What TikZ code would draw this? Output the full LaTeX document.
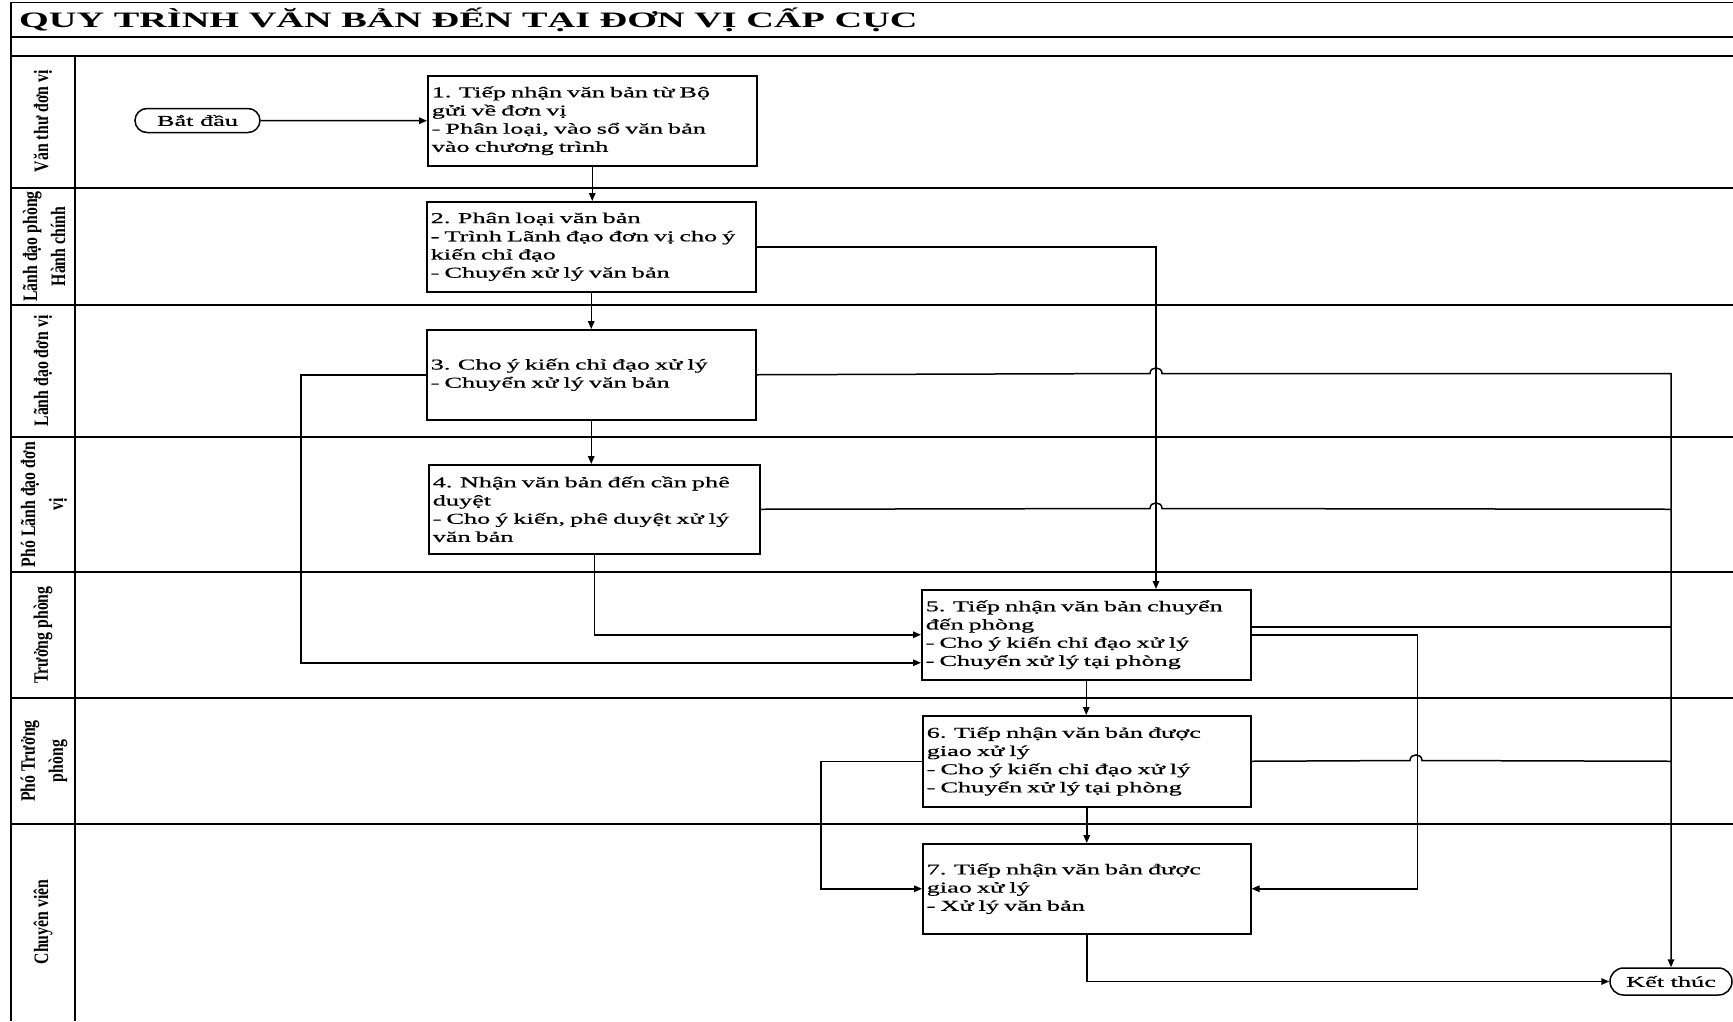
\documentclass[tikz,border=0pt]{standalone}
\usepackage{fontspec}
\setmainfont{Liberation Serif}
\newfontfamily\boxfont{Liberation Serif}[FakeStretch=1.75, FakeBold=0.6]
\newfontfamily\titlefont{Liberation Serif}[FakeStretch=1.74]
\newfontfamily\lanefont{Liberation Serif}[FakeStretch=0.77]
\usetikzlibrary{arrows.meta}

\begin{document}
\begin{tikzpicture}[x=1pt,y=-1pt,
  frame/.style={line width=1.5pt},
  lane/.style={line width=1.8pt},
  proc/.style={draw, line width=1.5pt, anchor=north west,
    minimum width=329pt, minimum height=90pt, text width=321pt,
    inner xsep=4pt, inner ysep=0pt, align=left,
    font=\boxfont\fontsize{15}{18.2}\selectfont},
  term/.style={draw, line width=1.5pt, inner sep=0pt,
    font=\boxfont\fontsize{15}{18.2}\selectfont},
  lanelabel/.style={rotate=90, align=center, inner sep=0pt,
    font=\lanefont\bfseries\fontsize{20.5}{28}\selectfont},
  flow/.style={line width=1.5pt},
  arr/.style={flow, -{Triangle[length=8pt,width=6.5pt]}},
]
\fill[white] (0,0) rectangle (1733,1021);
\useasboundingbox (0,0) rectangle (1733,1021);

% outer frame, title rows and header column
\draw[frame] (1733,2.5) -- (11,2.5) -- (11,1021);
\draw[frame] (11,37) -- (1733,37);
\draw[frame] (11,56) -- (1733,56);
\draw[frame] (75,56) -- (75,1021);

\node[anchor=base west, inner sep=0pt,
  font=\titlefont\bfseries\fontsize{22}{24}\selectfont] (title) at (19,27)
  {QUY TRÌNH VĂN BẢN ĐẾN TẠI ĐƠN VỊ CẤP CỤC};

% swimlane separators
\foreach \yy in {188,305,437,572,698,824}
  \draw[lane] (11,\yy) -- (1733,\yy);

% lane titles
\node[lanelabel] (l1) at (43,121) {Văn thư đơn vị};
\node[lanelabel] (l2) at (44,246.5) {Lãnh đạo phòng\\Hành chính};
\node[lanelabel] (l3) at (43,371) {Lãnh đạo đơn vị};
\node[lanelabel] (l4) at (44,504.5) {Phó Lãnh đạo đơn\\vị};
\node[lanelabel] (l5) at (43,635) {Trưởng phòng};
\node[lanelabel] (l6) at (44,761) {Phó Trưởng\\phòng};
\node[lanelabel] (l7) at (43,922) {Chuyên viên};

% process steps
\node[proc] (b1) at (427,75) {1. Tiếp nhận văn bản từ Bộ\\gửi về đơn vị\\- Phân loại, vào sổ văn bản\\vào chương trình};
\node[proc] (b2) at (426,201) {2. Phân loại văn bản\\- Trình Lãnh đạo đơn vị cho ý\\kiến chỉ đạo\\- Chuyển xử lý văn bản};
\node[proc] (b3) at (426,329) {3. Cho ý kiến chỉ đạo xử lý\\- Chuyển xử lý văn bản};
\node[proc, minimum width=331pt, text width=323pt, minimum height=89pt] (b4) at (428,464) {4. Nhận văn bản đến cần phê\\duyệt\\- Cho ý kiến, phê duyệt xử lý\\văn bản};
\node[proc] (b5) at (921,589) {5. Tiếp nhận văn bản chuyển\\đến phòng\\- Cho ý kiến chỉ đạo xử lý\\- Chuyển xử lý tại phòng};
\node[proc, minimum width=328pt, text width=320pt, minimum height=91pt] (b6) at (922,715) {6. Tiếp nhận văn bản được\\giao xử lý\\- Cho ý kiến chỉ đạo xử lý\\- Chuyển xử lý tại phòng};
\node[proc, minimum width=328pt, text width=320pt] (b7) at (922,843) {7. Tiếp nhận văn bản được\\giao xử lý\\- Xử lý văn bản};

% start and end
\node[term, minimum width=125pt, minimum height=24pt, rounded corners=12pt] (st) at (197.5,120.5) {Bắt đầu};
\node[term, minimum width=122pt, minimum height=27pt, rounded corners=13.5pt] (kt) at (1671,981.5) {Kết thúc};

% helper points on box sides
\coordinate (b5t) at ([xshift=235pt]b5.north west);
\coordinate (b5i) at ([yshift=-28pt]b5.west);
\coordinate (b5o) at ([yshift=8pt]b5.east);

% main flow
\draw[arr] (st.east) -- (b1.west);
\draw[arr] (b1.south) -- (b1.south |- b2.north);
\draw[arr] (b2.south) -- (b2.south |- b3.north);
\draw[arr] (b3.south) -- (b3.south |- b4.north);
\draw[arr] (b2.east) -| (b5t);
\draw[arr] (b3.west) -- ++(-125,0) |- (b5i);
\draw[arr] (b4.south) |- (b5.west);
\draw[arr] (b5.south) -- (b5.south |- b6.north);
\draw[arr] (b6.south) -- (b6.south |- b7.north);
\draw[arr] (b5.east) -- ++(166,0) |- (b7.east);
\draw[arr] (b6.west) -- ++(-101,0) |- (b7.west);
\draw[arr] (b7.south) |- (kt.west);

% branches to the end, with hops over crossing lines
\draw[arr] (b3.east) -- (1150,373.5) .. controls (1150,366) and (1162,366) .. (1162,373.5) -| (kt.north);
\draw[flow] (b4.east) -- (1150,508.5) .. controls (1150,501) and (1162,501) .. (1162,508.5) -- (kt.north |- b4.east);
\draw[flow] (b5o) -- (kt.north |- b5o);
\draw[flow] (b6.east) -- (1410,760.5) .. controls (1410,753) and (1422,753) .. (1422,760.5) -- (kt.north |- b6.east);
\end{tikzpicture}
\end{document}
